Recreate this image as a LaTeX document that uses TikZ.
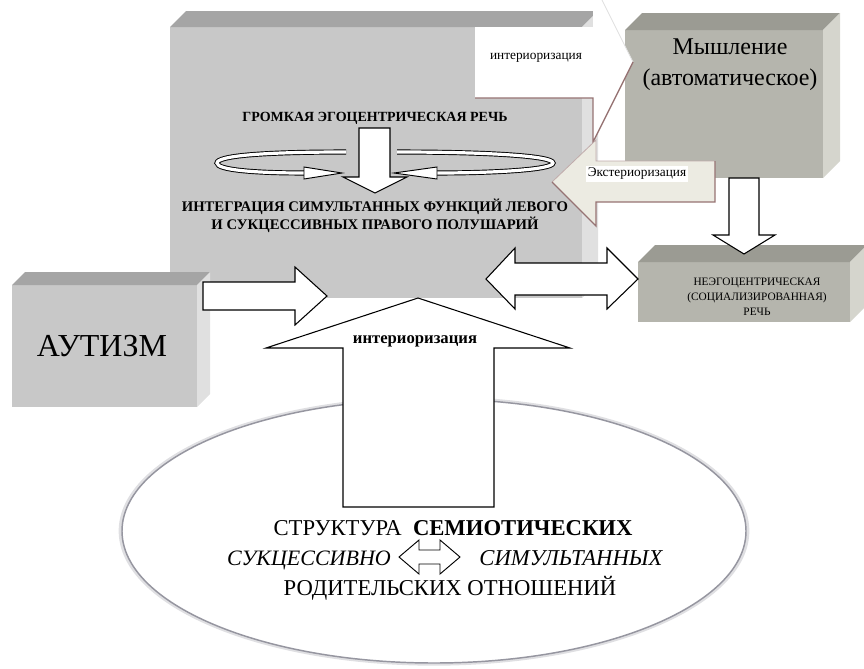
\documentclass[tikz,border=0pt]{standalone}
\usepackage{fontspec}
\setmainfont{Liberation Serif}
\definecolor{boxfront}{RGB}{200,200,200}
\definecolor{boxtop}{RGB}{165,165,165}
\definecolor{boxside}{RGB}{224,224,224}
\definecolor{warmfront}{RGB}{181,181,173}
\definecolor{warmtop}{RGB}{155,155,147}
\definecolor{warmside}{RGB}{213,213,205}
\definecolor{shadowbrown}{RGB}{150,115,115}
\definecolor{pastelbeige}{RGB}{236,235,226}
\definecolor{ovalgray}{RGB}{150,150,160}
\tikzset{
  blockarrow/.style={draw=black, fill=white, line width=0.8pt, line join=miter},
  ribbon/.style={draw=black, double=white, double distance=2.4pt, line width=0.7pt},
  ribbonhead/.style={draw=black, fill=white, line width=0.7pt, line join=miter},
  hugetext/.style={inner sep=0pt, font=\fontsize{24}{28}\selectfont},
  thinktext/.style={inner sep=0pt, align=center, font=\fontsize{18}{23}\selectfont},
  speechtext/.style={inner sep=0pt, align=center, font=\fontsize{8.5}{11.3}\selectfont},
  smalltext/.style={inner sep=0pt, font=\fontsize{10}{12}\selectfont},
  boldtext/.style={inner sep=0pt, align=center, font=\bfseries\fontsize{10.5}{13.5}\selectfont},
  ovaltext/.style={inner sep=0pt, text height=12pt, text depth=3.5pt, font=\fontsize{17}{21}\selectfont}
}

\begin{document}
\begin{tikzpicture}[x=0.75pt, y=-0.75pt]
  \useasboundingbox (0,0) rectangle (864,668);

  % Coordinates
  \coordinate (A) at (170,27);   % main box, front
  \coordinate (B) at (582,298);
  \coordinate (C) at (12,285);   % autism box, front
  \coordinate (D) at (197,407);
  \coordinate (E) at (625,30);   % thinking box, front
  \coordinate (F) at (823,178);
  \coordinate (G) at (638,262);  % speech box, front
  \coordinate (H) at (850,322);

  % Drawing
  \fill[boxfront] (A) rectangle (B);
  \fill[boxtop] (A) -- ++(16,-16) -- (598,11) -- (582,27) -- cycle;
  \fill[boxside] (582,27) -- (598,11) -- (598,282) -- (B) -- cycle;

  \fill[boxfront] (C) rectangle (D);
  \fill[boxtop] (C) -- ++(13,-13) -- (210,272) -- (197,285) -- cycle;
  \fill[boxside] (197,285) -- (210,272) -- (210,394) -- (D) -- cycle;

  \fill[warmfront] (E) rectangle (F);
  \fill[warmtop] (E) -- ++(17,-17) -- (840,13) -- (823,30) -- cycle;
  \fill[warmside] (823,30) -- (840,13) -- (840,161) -- (F) -- cycle;

  \fill[warmfront] (G) rectangle (H);
  \fill[warmtop] (G) -- ++(17,-17) -- (867,245) -- (850,262) -- cycle;
  \fill[warmside] (850,262) -- (867,245) -- (867,305) -- (H) -- cycle;

  \draw[line width=3pt, ovalgray!30] (434,531) ellipse [x radius=235pt, y radius=99.5pt];
  \draw[line width=1.1pt, ovalgray, fill=white] (434,531) ellipse [x radius=234pt, y radius=99pt];

  \fill[white] (475,27) -- (593,27) -- (593,-18) -- (633,62) -- (593,142) -- (593,98) -- (475,98) -- cycle;
  \draw[gray!25, line width=0.6pt] (593,-18) -- (633,62);
  \draw[shadowbrown, line width=1pt] (475,98) -- (593,98) -- (593,142) -- (633,62);

  \fill[pastelbeige] (552,182) -- (596,140) -- (596,161) -- (715,161) -- (715,202) -- (596,202) -- (596,226) -- cycle;
  \draw[shadowbrown!60, line width=0.6pt] (552,182) -- (596,140) -- (596,161) -- (715,161);
  \draw[shadowbrown, line width=1pt] (715,161) -- (715,202) -- (596,202) -- (596,226) -- (552,182);

  \filldraw[blockarrow] (729,178) -- (759,178) -- (759,235) -- (775,235) -- (744,254) -- (713,235) -- (729,235) -- cycle;
  \filldraw[blockarrow] (486,279) -- (515,248) -- (515,263) -- (607,263) -- (607,248) -- (638,279)
    -- (607,309) -- (607,295) -- (515,295) -- (515,309) -- cycle;
  \filldraw[blockarrow] (203,282) -- (295,282) -- (295,267) -- (327,296) -- (295,325) -- (295,310) -- (203,310) -- cycle;
  \filldraw[blockarrow] (343,507) -- (343,348) -- (266,348) -- (418,298) -- (570,348) -- (494,348) -- (494,507) -- cycle;

  \draw[ribbon] (346,152) .. controls (260,152) and (217,156) .. (217,163) .. controls (217,170) and (255,173) .. (304,173);
  \filldraw[ribbonhead] (304,167) -- (342,173) -- (304,179) -- cycle;
  \draw[ribbon] (397,152) .. controls (490,152) and (553,156) .. (553,163) .. controls (553,170) and (490,173) .. (437,173);
  \filldraw[ribbonhead] (437,167) -- (394,173) -- (437,179) -- cycle;
  \filldraw[blockarrow] (359,128) -- (390,128) -- (390,177) -- (407,177) -- (375,193) -- (343,177) -- (359,177) -- cycle;

  \filldraw[blockarrow, line width=0.7pt] (399,557) -- (419,540) -- (419,550) -- (440,550) -- (440,540) -- (460,557)
    -- (440,574) -- (440,564) -- (419,564) -- (419,574) -- cycle;

  % Texts
  \node[hugetext] (autism) at (102,346) {АУТИЗМ};
  \node[thinktext] (thinking) at (730,65) {Мышление\\(автоматическое)};
  \node[speechtext] (speech) at (757,297) {НЕЭГОЦЕНТРИЧЕСКАЯ\\(СОЦИАЛИЗИРОВАННАЯ)\\РЕЧЬ};
  \node[smalltext] (intertop) at (536,58) {интериоризация};
  \node[smalltext, fill=white, inner sep=1.5pt] (exter) at (637,174) {Экстериоризация};
  \node[boldtext] (loud) at (375,118) {ГРОМКАЯ ЭГОЦЕНТРИЧЕСКАЯ РЕЧЬ};
  \node[boldtext, font=\bfseries\fontsize{11}{13.5}\selectfont] (integr) at (375,216) {ИНТЕГРАЦИЯ СИМУЛЬТАННЫХ ФУНКЦИЙ ЛЕВОГО\\И СУКЦЕССИВНЫХ ПРАВОГО ПОЛУШАРИЙ};
  \node[boldtext, font=\bfseries\fontsize{12.5}{15}\selectfont] (interup) at (415,341) {интериоризация};
  \node[ovaltext] (struct) at (453,530) {СТРУКТУРА\ \ \textbf{СЕМИОТИЧЕСКИХ}};
  \node[ovaltext, font=\itshape\fontsize{16.5}{21}\selectfont] (succ) at (309,560) {СУКЦЕССИВНО};
  \node[ovaltext, font=\itshape\fontsize{17}{21}\selectfont] (simul) at (571,560) {СИМУЛЬТАННЫХ};
  \node[ovaltext] (parent) at (450,590) {РОДИТЕЛЬСКИХ ОТНОШЕНИЙ};
\end{tikzpicture}
\end{document}
